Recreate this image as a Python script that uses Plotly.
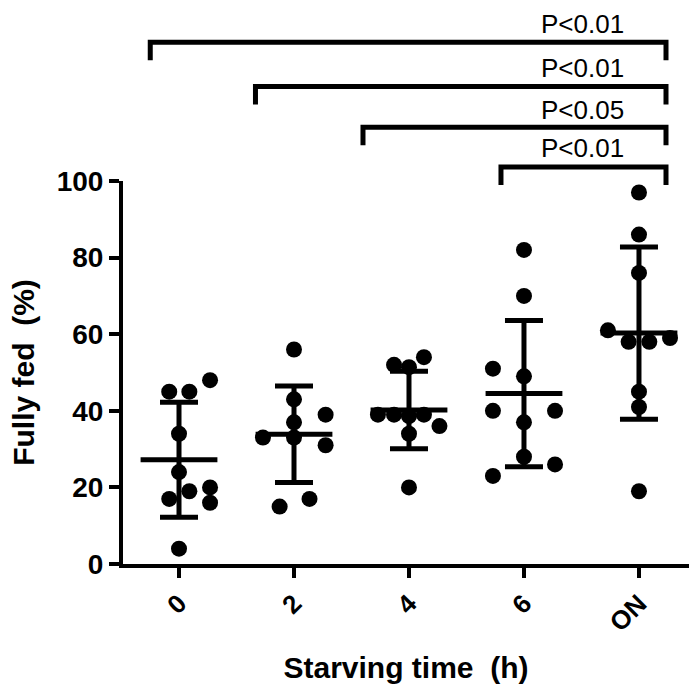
import plotly.graph_objects as go

# ---- data ----
categories = ["0", "2", "4", "6", "ON"]

vals_0  = [45, 45, 48, 34, 24, 20, 19, 17, 16, 4]
vals_2  = [56, 43, 39, 37, 33, 33, 31, 17, 15]
vals_4  = [54, 52, 51.4, 39, 39, 38.6, 39, 36, 34, 20]
vals_6  = [82, 70, 51, 49, 40, 40, 37, 28, 26, 23]
vals_on = [97, 86, 76, 61, 58, 58, 59, 45, 41, 19]

# horizontal scatter (jitter) of each dot, in category units
jit_0  = [-0.085, 0.09, 0.27, 0, 0, 0.27, 0.09, -0.085, 0.27, 0]
jit_2  = [0, 0, 0.275, 0, -0.27, 0, 0.275, 0.135, -0.125]
jit_4  = [0.13, -0.13, 0, -0.27, -0.13, 0, 0.13, 0.265, 0, 0]
jit_6  = [0, 0, -0.27, 0, -0.27, 0.27, 0, 0, 0.27, -0.27]
jit_on = [0, 0, 0, -0.27, -0.09, 0.09, 0.27, 0, 0, 0]

means = [27.2, 33.9, 40.2, 44.5, 60.3]
sds   = [15.0, 12.6, 10.1, 19.1, 22.5]

# significance brackets: left end (category units), p-label
bracket_left  = [-0.25, 0.665, 1.6, 2.8]
bracket_right = 4.235
bracket_text  = ["P<0.01", "P<0.01", "P<0.05", "P<0.01"]
bracket_top   = [1.362, 1.2466, 1.1406, 1.0365]   # paper coords
bracket_drop  = 0.047
text_y        = [1.409, 1.2956, 1.185, 1.086]
text_x        = 3.513

groups = [vals_0, vals_2, vals_4, vals_6, vals_on]
jits = [jit_0, jit_2, jit_4, jit_6, jit_on]

FONT = "Arial, Liberation Sans, Helvetica, sans-serif"

fig = go.Figure()

# mean lines
mx, my = [], []
for i, m in enumerate(means):
    mx += [i - 0.334, i + 0.334, None]
    my += [m, m, None]
fig.add_trace(go.Scatter(x=mx, y=my, mode="lines",
                         line=dict(color="black", width=5),
                         hoverinfo="skip", showlegend=False, cliponaxis=False))

# SD error bars
fig.add_trace(go.Scatter(x=list(range(len(means))), y=means, mode="markers",
                         marker=dict(size=1, color="rgba(0,0,0,0)"),
                         error_y=dict(type="data", array=sds, visible=True,
                                      color="black", thickness=5, width=19),
                         showlegend=False, cliponaxis=False))

# dots
for i, (vals, jit) in enumerate(zip(groups, jits)):
    fig.add_trace(go.Scatter(x=[i + j for j in jit], y=vals, mode="markers",
                             marker=dict(size=16, color="black"),
                             showlegend=False, cliponaxis=False))

# brackets
for xl, yt, txt, ty in zip(bracket_left, bracket_top, bracket_text, text_y):
    fig.add_shape(type="path", xref="x", yref="paper",
                  path=f"M {xl},{yt - bracket_drop} L {xl},{yt} L {bracket_right},{yt} L {bracket_right},{yt - bracket_drop}",
                  line=dict(color="black", width=5))
    fig.add_annotation(x=text_x, y=ty, xref="x", yref="paper", text=txt,
                       showarrow=False, font=dict(family=FONT, size=26, color="black"),
                       xanchor="center", yanchor="middle")

fig.update_layout(
    width=689, height=688,
    margin=dict(l=123, r=0, t=181, b=124),
    paper_bgcolor="white", plot_bgcolor="white",
    font=dict(family=FONT, color="black"),
    xaxis=dict(range=[-0.487, 4.435], tickvals=list(range(5)), ticktext=categories,
               tickangle=-45, showline=True, linewidth=4, linecolor="black",
               ticks="outside", ticklen=10, tickwidth=4, tickcolor="black",
               showgrid=False, zeroline=False,
               tickfont=dict(family=FONT, size=26, color="black", weight="bold"),
               title=dict(text="<b>Starving time\u00a0 (h)</b>", standoff=22,
                          font=dict(family=FONT, size=30, color="black"))),
    yaxis=dict(range=[0, 100], tickvals=[0, 20, 40, 60, 80, 100],
               showline=True, linewidth=4, linecolor="black",
               ticks="outside", ticklen=10, tickwidth=4, tickcolor="black",
               showgrid=False, zeroline=False,
               tickfont=dict(family=FONT, size=28, color="black", weight="bold"),
               title=dict(text="<b>Fully fed\u00a0 (%)</b>", standoff=14,
                          font=dict(family=FONT, size=30, color="black"))),
)

fig.write_html("out.html")
